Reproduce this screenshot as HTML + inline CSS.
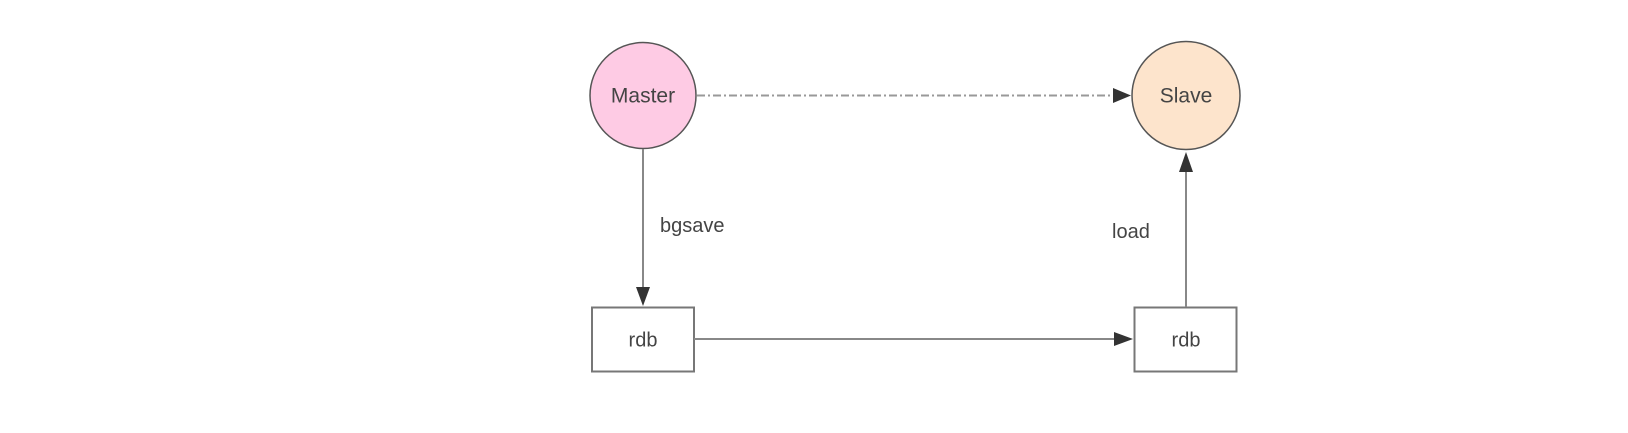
<!DOCTYPE html>
<html><head><meta charset="utf-8"><style>
html,body{margin:0;padding:0;background:#fff;}
svg{display:block}
text{font-family:"Liberation Sans",sans-serif;fill:#444;}
</style></head><body>
<svg width="1628" height="433" viewBox="0 0 1628 433" xmlns="http://www.w3.org/2000/svg">
<circle cx="643" cy="95.5" r="53" fill="#fecbe4" stroke="#555" stroke-width="1.5"/>
<text x="643" y="102.5" font-size="21" text-anchor="middle">Master</text>
<circle cx="1186" cy="95.5" r="54" fill="#fde4cc" stroke="#555" stroke-width="1.5"/>
<text x="1186" y="102.5" font-size="21" text-anchor="middle">Slave</text>
<rect x="592" y="307.5" width="102" height="64" fill="#fff" stroke="#777" stroke-width="2"/>
<text x="643" y="346.5" font-size="20" text-anchor="middle">rdb</text>
<rect x="1134.5" y="307.5" width="102" height="64" fill="#fff" stroke="#777" stroke-width="2"/>
<text x="1186" y="346.5" font-size="20" text-anchor="middle">rdb</text>
<line x1="697" y1="95.5" x2="1113" y2="95.5" stroke="#999" stroke-width="2" stroke-dasharray="8 3 2 3"/>
<polygon points="1113,88 1131,95.5 1113,103" fill="#333"/>
<line x1="643" y1="149" x2="643" y2="288" stroke="#888" stroke-width="2"/>
<polygon points="636,287 650,287 643,306" fill="#333"/>
<line x1="694" y1="339" x2="1115" y2="339" stroke="#888" stroke-width="2"/>
<polygon points="1114,332 1133,339 1114,346" fill="#333"/>
<line x1="1186" y1="307" x2="1186" y2="170" stroke="#888" stroke-width="2"/>
<polygon points="1179,172 1193,172 1186,152" fill="#333"/>
<text x="660" y="232" font-size="20">bgsave</text>
<text x="1112" y="238" font-size="20">load</text>
</svg>
</body></html>
